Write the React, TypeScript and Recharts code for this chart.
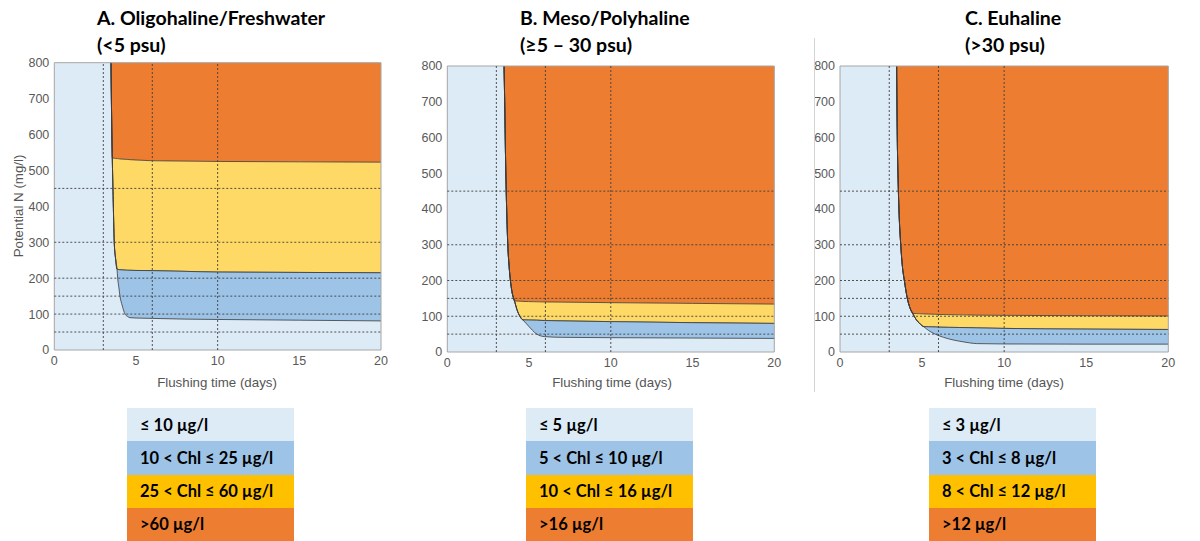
import React from 'react';
import { ComposedChart, Area, XAxis, YAxis, CartesianGrid, ReferenceLine, ReferenceArea } from 'recharts';

const LIGHT = '#DDEBF7';
const BLUE = '#9DC3E6';
const YELLOW = '#FFD966';
const GOLD = '#FFC000';
const ORANGE = '#ED7D31';
const EDGE = '#3a3a3a';

const xTicks = [0, 5, 10, 15, 20];
const yTicks = [0, 100, 200, 300, 400, 500, 600, 700, 800];
const gridX = [3, 6, 10];
const gridY = [50, 100, 150, 200, 300, 450];

// A. Oligohaline/Freshwater
const xA = [3.47, 3.5, 3.55, 3.6, 3.67, 3.75, 3.84, 3.88, 3.95, 4.02, 4.15, 4.33, 4.5, 4.63, 5, 6, 8, 10, 15, 20];
const lowA = [800, 680, 535, 430, 300, 255, 225, 200, 175, 150, 125, 100, 93, 90, 89, 88, 86, 85, 83, 81];
const blueTopA = [800, 680, 535, 430, 300, 255, 225, 224.5, 224, 223.5, 223, 222.5, 222, 222, 221.5, 221, 219, 217, 216, 215];
const yellowTopA = [800, 680, 535, 534.5, 534, 533.5, 533, 533, 532.5, 532, 531.5, 531, 530.5, 530, 529, 527, 526, 525, 524, 523];

// B. Meso/Polyhaline
const xB = [3.47, 3.51, 3.56, 3.63, 3.7, 3.78, 3.86, 3.95, 4.11, 4.25, 4.45, 4.62, 4.96, 5.47, 5.96, 7, 10, 15, 20];
const lowB = [800, 700, 550, 400, 300, 240, 200, 170, 143, 120, 99, 90, 73, 50, 43, 41, 40, 39, 38];
const blueTopB = [800, 700, 550, 400, 300, 240, 200, 170, 143, 120, 99, 90, 89.5, 89, 88, 87, 85, 82, 80];
const yellowTopB = [800, 700, 550, 400, 300, 240, 200, 170, 143, 142.5, 142, 141.5, 141, 140.5, 140, 139.5, 138, 136, 134];

// C. Euhaline
const xC = [3.45, 3.49, 3.53, 3.59, 3.7, 3.8, 3.92, 4.1, 4.25, 4.43, 4.65, 4.85, 5.1, 5.4, 5.8, 6.0, 6.6, 7.3, 7.9, 8.33, 10, 15, 20];
const lowC = [800, 600, 500, 400, 300, 240, 200, 150, 125, 108, 90, 80, 71, 60, 50, 46, 37, 30, 25.5, 23.5, 22.5, 22, 22];
const blueTopC = [800, 600, 500, 400, 300, 240, 200, 150, 125, 108, 90, 80, 71, 70.5, 70, 69.5, 69, 68.5, 68, 67.5, 66, 64, 63];
const yellowTopC = [800, 600, 500, 400, 300, 240, 200, 150, 125, 108, 107.5, 107, 106.5, 106, 105.5, 105, 104.5, 104, 103.5, 103, 102.5, 101.5, 100.5];

const legendA = ['≤ 10 µg/l', '10 < Chl ≤ 25 µg/l', '25 < Chl ≤ 60 µg/l', '>60 µg/l'];
const legendB = ['≤ 5 µg/l', '5 < Chl ≤ 10 µg/l', '10 < Chl ≤ 16 µg/l', '>16 µg/l'];
const legendC = ['≤ 3 µg/l', '3 < Chl ≤ 8 µg/l', '8 < Chl ≤ 12 µg/l', '>12 µg/l'];
const legendColors = [LIGHT, BLUE, GOLD, ORANGE];

const panels = [
  {
    title: ['A. Oligohaline/Freshwater', '(<5 psu)'], titleLeft: 97,
    ox: 0, plot: { left: 54.3, right: 381, top: 62.7, bottom: 350 },
    x: xA, low: lowA, blueTop: blueTopA, yellowTop: yellowTopA,
    legend: legendA, legendLeft: 127, xLabel: 217, yLabel: true,
  },
  {
    title: ['B. Meso/Polyhaline', '(≥5 – 30 psu)'], titleLeft: 520,
    ox: 400, plot: { left: 447.3, right: 774.3, top: 66, bottom: 352 },
    x: xB, low: lowB, blueTop: blueTopB, yellowTop: yellowTopB,
    legend: legendB, legendLeft: 526, xLabel: 612, yLabel: false,
  },
  {
    title: ['C. Euhaline', '(>30 psu)'], titleLeft: 965,
    ox: 800, plot: { left: 840, right: 1168.3, top: 66, bottom: 352 },
    x: xC, low: lowC, blueTop: blueTopC, yellowTop: yellowTopC,
    legend: legendC, legendLeft: 929, xLabel: 1004, yLabel: false,
  },
];

const tickStyle = { fill: '#595959', fontSize: 12.5, fontFamily: '"Liberation Sans", Arial, sans-serif' };

function Panel({ p }: { p: any }) {
  const W = 400;
  const H = 400;
  const data = p.x.map((x: number, i: number) => ({
    x,
    blue: [p.low[i], p.blueTop[i]],
    yellow: [p.blueTop[i], p.yellowTop[i]],
    orange: [p.yellowTop[i], 800],
  }));
  const margin = {
    top: p.plot.top,
    left: p.plot.left - p.ox - 40,
    right: p.ox + W - p.plot.right,
    bottom: H - p.plot.bottom - 30,
  };
  return (
    <div style={{ position: 'absolute', left: p.ox, top: 0 }}>
      <ComposedChart width={W} height={H} data={data} margin={margin}>
        <CartesianGrid fill={LIGHT} horizontal={false} vertical={false} />
        <XAxis type="number" dataKey="x" domain={[0, 20]} ticks={xTicks} height={30}
          axisLine={false} tickLine={false} tickSize={4} tickMargin={2} tick={tickStyle} />
        <YAxis type="number" domain={[0, 800]} ticks={yTicks} width={40}
          axisLine={false} tickLine={false} tickSize={3} tickMargin={2} tick={tickStyle} />
        <Area type="monotone" dataKey="orange" fill={ORANGE} fillOpacity={1} stroke="none" isAnimationActive={false} />
        <Area type="monotone" dataKey="yellow" fill={YELLOW} fillOpacity={1} stroke={EDGE} strokeWidth={0.8} isAnimationActive={false} />
        <Area type="monotone" dataKey="blue" fill={BLUE} fillOpacity={1} stroke={EDGE} strokeWidth={0.8} isAnimationActive={false} />
        {gridX.map((v) => (
          <ReferenceLine key={'x' + v} x={v} stroke="#404040" strokeDasharray="2 2" strokeWidth={0.9} />
        ))}
        {gridY.map((v) => (
          <ReferenceLine key={'y' + v} y={v} stroke="#404040" strokeDasharray="2 2" strokeWidth={0.9} />
        ))}
        <ReferenceArea x1={0} x2={20} y1={0} y2={800} fill="none" fillOpacity={0} stroke="#a6a6a6" strokeWidth={1} />
      </ComposedChart>
    </div>
  );
}

const titleStyle: React.CSSProperties = {
  position: 'absolute', fontFamily: 'Lato, "Open Sans", sans-serif', fontWeight: 700,
  fontSize: 19.5, color: '#000', whiteSpace: 'nowrap', lineHeight: '27px',
};

const labelStyle: React.CSSProperties = {
  position: 'absolute', fontFamily: '"Liberation Sans", Arial, sans-serif', fontSize: 13.3,
  color: '#555', whiteSpace: 'nowrap',
};

export default function App() {
  return (
    <div style={{ position: 'absolute', left: 0, top: 0, width: 1200, height: 541, background: '#fff', overflow: 'hidden' }}>
      {panels.map((p, k) => (
        <React.Fragment key={k}>
          <div style={{ ...titleStyle, left: p.titleLeft, top: 4 }}>
            {p.title[0]}<br />{p.title[1]}
          </div>
          <Panel p={p} />
          <div style={{ ...labelStyle, left: p.xLabel, top: 382, transform: 'translate(-50%, -50%)' }}>
            Flushing time (days)
          </div>
          {p.yLabel && (
            <div style={{ ...labelStyle, left: 18, top: 206, transform: 'translate(-50%, -50%) rotate(-90deg)' }}>
              Potential N (mg/l)
            </div>
          )}
          <div style={{ position: 'absolute', left: p.legendLeft, top: 408, width: 167 }}>
            {p.legend.map((t: string, i: number) => (
              <div key={i} style={{
                height: 33.25, background: legendColors[i], display: 'flex', alignItems: 'center',
                paddingLeft: 13, boxSizing: 'border-box', fontFamily: 'Lato, "Open Sans", sans-serif',
                fontWeight: 700, fontSize: 16.5, color: '#000', whiteSpace: 'nowrap',
              }}>{t}</div>
            ))}
          </div>
        </React.Fragment>
      ))}
      <div style={{ position: 'absolute', left: 814, top: 38, width: 1, height: 354, background: '#d4d4d4' }} />
    </div>
  );
}
